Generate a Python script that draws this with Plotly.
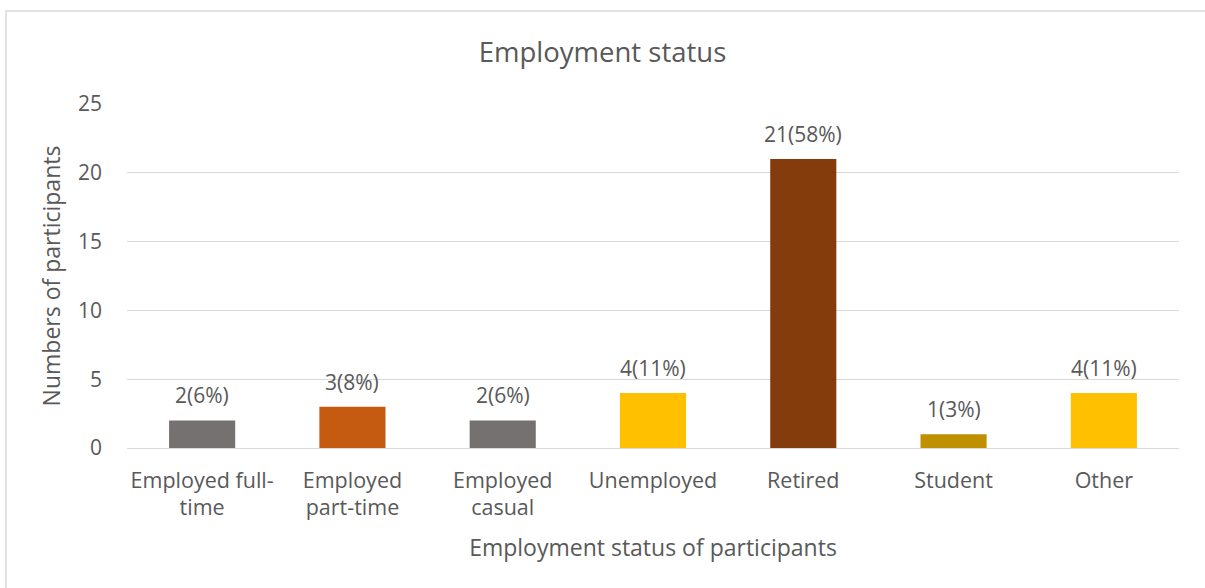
import plotly.graph_objects as go

# Participant counts by employment status
categories = ["Employed full-<br>time", "Employed<br>part-time", "Employed<br>casual",
              "Unemployed", "Retired", "Student", "Other"]
counts = [2, 3, 2, 4, 21, 1, 4]
percents = [6, 8, 6, 11, 58, 3, 11]
bar_colors = ["#767171", "#C55A11", "#767171", "#FFC000", "#843C0C", "#BF9000", "#FFC000"]

labels = [f"{c}({p}%)" for c, p in zip(counts, percents)]

FONT = "Open Sans, Carlito, Calibri, sans-serif"
TXT = "#595959"
GRID = "#D9D9D9"

fig = go.Figure(go.Bar(
    x=categories,
    y=counts,
    marker=dict(color=bar_colors, line=dict(width=0)),
    width=0.44,
    hovertext=labels,
))

# value labels sit a little above each bar
annotations = [
    dict(x=c, y=v, text=t, xref="x", yref="y", showarrow=False,
         yanchor="middle", yshift=25,
         font=dict(family=FONT, size=21, color=TXT))
    for c, v, t in zip(categories, counts, labels)
]

fig.update_layout(
    width=1205,
    height=588,
    margin=dict(l=127, r=26, t=104, b=140),
    paper_bgcolor="white",
    plot_bgcolor="white",
    font=dict(family=FONT, color=TXT),
    showlegend=False,
    annotations=annotations,
    title=dict(text="Employment status", x=0.5, xanchor="center",
               y=1 - 52 / 588, yanchor="middle",
               font=dict(family=FONT, size=27.5, color=TXT)),
    xaxis=dict(
        showgrid=False,
        showline=False,
        zeroline=False,
        tickfont=dict(family=FONT, size=21.5, color=TXT),
        ticklabelstandoff=17,
        title=dict(text="Employment status of participants",
                   font=dict(family=FONT, size=23, color=TXT), standoff=19),
    ),
    yaxis=dict(
        range=[0, 25],
        dtick=5,
        showgrid=True,
        gridcolor=GRID,
        gridwidth=1,
        zeroline=True,
        zerolinecolor=GRID,
        zerolinewidth=1,
        showline=False,
        tickfont=dict(family=FONT, size=21, color=TXT),
        ticklabelstandoff=24,
        title=dict(text="Numbers of participants",
                   font=dict(family=FONT, size=23, color=TXT), standoff=10),
    ),
    shapes=[dict(
        type="rect", xref="paper", yref="paper",
        x0=(6 - 127) / 1052, x1=(1215 - 127) / 1052,
        y0=(448 - 600) / 344, y1=(448 - 11) / 344,
        line=dict(color=GRID, width=1.5), fillcolor="rgba(0,0,0,0)",
        layer="below",
    )],
)

fig.write_html("out.html")
